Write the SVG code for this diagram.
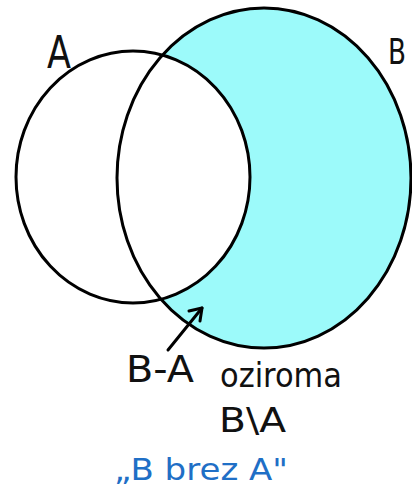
<svg xmlns="http://www.w3.org/2000/svg" width="412" height="490" viewBox="0 0 412 490">
<style>
.ln{fill:none;stroke:#000;stroke-width:3;stroke-linecap:round;stroke-linejoin:round}
.t{font-family:"DejaVu Sans",sans-serif;fill:#111}
</style>
<rect width="412" height="490" fill="#fff"/>
<g id="setB-fill"><ellipse cx="264" cy="178" rx="147" ry="170" fill="#9cfafa"/></g>
<g id="setA-fill"><ellipse cx="133" cy="177" rx="117" ry="126" fill="#fff"/></g>
<g id="setB"><ellipse class="ln" cx="264" cy="178" rx="147" ry="170"/>
<text class="t" x="388" y="64" font-size="36" textLength="18" lengthAdjust="spacingAndGlyphs">B</text></g>
<g id="setA"><ellipse class="ln" cx="133" cy="177" rx="117" ry="126"/>
<text class="t" x="47" y="68" font-size="44" textLength="24" lengthAdjust="spacingAndGlyphs">A</text></g>
<g id="connectors">
<path class="ln" d="M168 350 L202 308"/>
<path class="ln" d="M189 311 L202 308 L200 321" fill="#000"/>
</g>
<g id="labels">
<text class="t" x="126" y="382" font-size="37" textLength="68" lengthAdjust="spacingAndGlyphs">B-A</text>
<text class="t" x="220" y="387" font-size="33" textLength="122" lengthAdjust="spacingAndGlyphs">oziroma</text>
<text class="t" x="219" y="432" font-size="34" textLength="67" lengthAdjust="spacingAndGlyphs">B\A</text>
<text class="t" x="114" y="480" font-size="31" style="fill:#1f6fc6" textLength="174" lengthAdjust="spacingAndGlyphs">„B brez A"</text>
</g>
</svg>
